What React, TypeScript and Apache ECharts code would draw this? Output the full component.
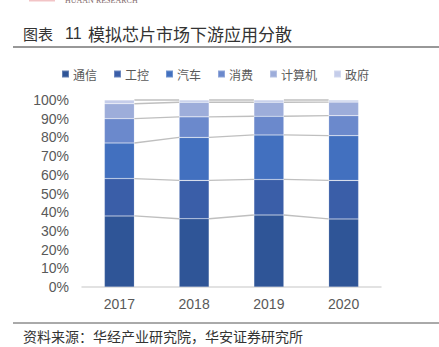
import React, { useEffect, useRef } from "react";
import * as echarts from "echarts";

const years = ["2017", "2018", "2019", "2020"];
const seriesNames = ["通信", "工控", "汽车", "消费", "计算机", "政府"];
const tongxin = [38, 36.5, 38.5, 36.4];
const gongkong = [20, 20.5, 19, 20.6];
const qiche = [19, 23, 23.8, 23.9];
const xiaofei = [13, 11, 10, 10.7];
const jisuanji = [8, 7.8, 7.5, 7.3];
const zhengfu = [2, 1.2, 1.2, 1.1];
const yTicks = [0, 10, 20, 30, 40, 50, 60, 70, 80, 90, 100];

const colors = ["#2F5597", "#3A5EA8", "#4270BF", "#6B89CC", "#9DADDA", "#C5CDEA"];
const BAR_W = 30;

export default function App() {
  const ref = useRef<HTMLDivElement>(null);
  useEffect(() => {
    if (!ref.current) return;
    const chart = echarts.init(ref.current, undefined, { renderer: "svg" });
    const all = [tongxin, gongkong, qiche, xiaofei, jisuanji, zhengfu];
    const cum: number[][] = [];
    all.forEach((arr, s) => {
      cum.push(arr.map((v, i) => (s === 0 ? 0 : cum[s - 1][i]) + v));
    });
    const connData: number[][] = [];
    cum.forEach((row) => {
      for (let i = 0; i < row.length - 1; i++) {
        connData.push([i, row[i], row[i + 1]]);
      }
    });
    const barSeries = all.map((arr, s) => ({
      name: seriesNames[s],
      type: "bar",
      stack: "total",
      barWidth: BAR_W,
      data: arr,
      itemStyle: { color: colors[s], borderColor: "rgba(255,255,255,0.25)", borderWidth: 0.6 },
    }));
    const font = "'Noto Sans CJK SC', 'Noto Sans', sans-serif";
    chart.setOption({
      animation: false,
      backgroundColor: "#ffffff",
      legend: {
        data: seriesNames,
        left: 56,
        top: 63,
        itemWidth: 7,
        itemHeight: 7,
        itemGap: 16,
        icon: "rect",
        textStyle: { fontSize: 12, color: "#595959", fontFamily: font, padding: [0, 0, 0, -1] },
      },
      grid: { left: 82, right: 58, top: 100, bottom: 60, containLabel: false },
      xAxis: {
        type: "category",
        data: years,
        axisLine: { lineStyle: { color: "#D9D9D9", width: 1.5 } },
        axisTick: { show: false },
        axisLabel: { fontSize: 14, color: "#595959", margin: 10, fontFamily: "'Liberation Sans', Arial, sans-serif" },
      },
      yAxis: {
        type: "value",
        min: yTicks[0],
        max: yTicks[yTicks.length - 1],
        interval: 10,
        axisLine: { show: false },
        axisTick: { show: false },
        splitLine: { show: false },
        axisLabel: {
          fontSize: 14,
          color: "#595959",
          margin: 13,
          formatter: "{value}%",
          fontFamily: "'Liberation Sans', Arial, sans-serif",
        },
      },
      series: [
        ...barSeries,
        {
          type: "custom",
          name: "conn",
          data: connData,
          encode: { x: 0, y: 1 },
          silent: true,
          z: 1,
          renderItem: (params: any, api: any) => {
            const i = api.value(0);
            const p1 = api.coord([i, api.value(1)]);
            const p2 = api.coord([i + 1, api.value(2)]);
            return {
              type: "line",
              shape: { x1: p1[0] + BAR_W / 2, y1: p1[1], x2: p2[0] - BAR_W / 2, y2: p2[1] },
              style: { stroke: "#BFBFBF", lineWidth: 1.3 },
            };
          },
        },
      ],
      graphic: [
        { type: "rect", shape: { x: 29, y: 0, width: 26, height: 1.5 }, style: { fill: "#F2C4C6" } },
        {
          type: "text",
          x: 65,
          y: 4,
          style: {
            text: "HUAAN RESEARCH",
            fill: "#7f6a6a",
            font: "8px 'Liberation Serif', serif",
            verticalAlign: "bottom",
          },
        },
        {
          type: "text",
          x: 23,
          y: 33,
          style: { text: "图表", fill: "#333333", font: `15px ${font}`, verticalAlign: "middle" },
        },
        {
          type: "text",
          x: 65,
          y: 33,
          style: { text: "11", fill: "#333333", font: "16px 'Liberation Sans', Arial, sans-serif", verticalAlign: "middle" },
        },
        {
          type: "text",
          x: 88,
          y: 33,
          style: { text: "模拟芯片市场下游应用分散", fill: "#333333", font: `17px ${font}`, verticalAlign: "middle" },
        },
        { type: "line", shape: { x1: 13, y1: 47, x2: 439, y2: 47 }, style: { stroke: "#333333", lineWidth: 1.2 } },
        { type: "line", shape: { x1: 13, y1: 323, x2: 439, y2: 323 }, style: { stroke: "#555555", lineWidth: 1 } },
        {
          type: "text",
          x: 23,
          y: 336,
          style: {
            text: "资料来源：华经产业研究院，华安证券研究所",
            fill: "#333333",
            font: `14px ${font}`,
            verticalAlign: "middle",
          },
        },
      ],
    });
    return () => chart.dispose();
  }, []);
  return (
    <div
      ref={ref}
      style={{ position: "fixed", left: 0, top: 0, width: 439, height: 347, background: "#fff" }}
    />
  );
}
